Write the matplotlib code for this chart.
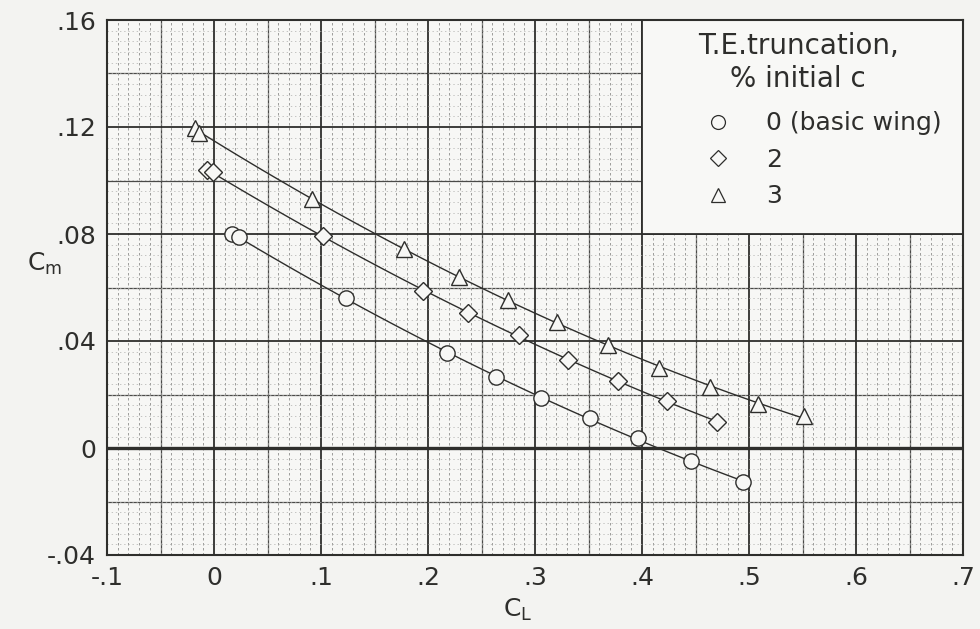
import numpy as np
import matplotlib
matplotlib.use('Agg')
import matplotlib.pyplot as plt
from matplotlib.ticker import MultipleLocator
from matplotlib.patches import Rectangle
from matplotlib.lines import Line2D

# (C_L, Cm)
cl_basic = [0.017, 0.023, 0.123, 0.218, 0.264, 0.306, 0.351, 0.396, 0.446, 0.494]
cm_basic = [0.080, 0.079, 0.056, 0.0355, 0.0265, 0.0187, 0.0112, 0.0037, -0.0049, -0.0127]

cl_trunc2 = [-0.0065, -0.001, 0.102, 0.195, 0.237, 0.285, 0.331, 0.378, 0.423, 0.470]
cm_trunc2 = [0.1039, 0.1030, 0.0793, 0.0587, 0.0505, 0.0422, 0.0329, 0.0250, 0.0176, 0.0097]

cl_trunc3 = [-0.018, -0.014, 0.092, 0.178, 0.229, 0.275, 0.321, 0.368, 0.416, 0.464, 0.508, 0.551]
cm_trunc3 = [0.1196, 0.1178, 0.0931, 0.0744, 0.0639, 0.0553, 0.0471, 0.0385, 0.0299, 0.0228, 0.0164, 0.0120]

series = [
    (cl_basic, cm_basic, 'o', '0 (basic wing)'),
    (cl_trunc2, cm_trunc2, 'D', '2'),
    (cl_trunc3, cm_trunc3, '^', '3'),
]

x_ticks = [-0.1, 0.0, 0.1, 0.2, 0.3, 0.4, 0.5, 0.6, 0.7]
x_labels = ['-.1', '0', '.1', '.2', '.3', '.4', '.5', '.6', '.7']
y_ticks = [-0.04, 0.0, 0.04, 0.08, 0.12, 0.16]
y_labels = ['-.04', '0', '.04', '.08', '.12', '.16']

ink = '#2e2e2c'
paper = '#f3f3f1'

fig = plt.figure(figsize=(9.8, 6.29), dpi=100, facecolor=paper)
ax = fig.add_axes([107 / 980, 1 - 555 / 629, 856 / 980, 535 / 629])
ax.set_facecolor('#f7f7f5')

ax.set_xlim(-0.1, 0.7)
ax.set_ylim(-0.04, 0.16)

# graph paper grid
ax.xaxis.set_minor_locator(MultipleLocator(0.01))
ax.yaxis.set_minor_locator(MultipleLocator(0.004))
ax.xaxis.grid(True, which='minor', color='#8e8e8c', lw=0.6, ls=(0, (3, 3)), zorder=0.3)
ax.yaxis.grid(True, which='minor', color='#b0b0ae', lw=0.5, ls=(0, (2, 4)), zorder=0.3)
ax.grid(which='major', color=ink, lw=1.3, zorder=0.6)
ax.set_axisbelow(True)
for xv in np.arange(-0.05, 0.7, 0.1):
    ax.axvline(xv, color='#4a4a48', lw=0.9, zorder=0.5)
for yv in np.arange(-0.02, 0.16, 0.04):
    ax.axhline(yv, color='#4a4a48', lw=0.9, zorder=0.5)
ax.axhline(0, color=ink, lw=2.4, zorder=0.7)

ax.set_xticks(x_ticks)
ax.set_xticklabels(x_labels)
ax.set_yticks(y_ticks)
ax.set_yticklabels(y_labels)
ax.tick_params(which='both', length=0, labelsize=18, colors=ink, pad=8)

for sp in ax.spines.values():
    sp.set_color(ink)
    sp.set_linewidth(1.5)

# legend panel blanks out the grid
ax.add_patch(Rectangle((0.4, 0.08), 0.3, 0.08, facecolor='#f8f8f6',
                       edgecolor=ink, lw=1.3, zorder=1.5))

handles = []
for cl, cm, mk, lab in series:
    cl = np.array(cl)
    cm = np.array(cm)
    coef = np.polyfit(cl, cm, 2)
    xs = np.linspace(cl.min(), cl.max(), 100)
    ax.plot(xs, np.polyval(coef, xs), color=ink, lw=1.0, zorder=2)
    ms = 9 if mk == 'D' else 11
    ax.plot(cl, cm, ls='none', marker=mk, ms=ms, mfc='#f7f7f5', mec=ink,
            mew=1.0, zorder=3)
    handles.append(Line2D([], [], ls='none', marker=mk, ms=ms - 1,
                          mfc='#f8f8f6', mec=ink, mew=0.9))

ax.text(0.690, 0.951, 'T.E.truncation,', transform=ax.transAxes,
        fontsize=20, color=ink, ha='left', va='center', zorder=4)
ax.text(0.728, 0.890, '% initial c', transform=ax.transAxes,
        fontsize=20, color=ink, ha='left', va='center', zorder=4)

leg = ax.legend(handles, [s[3] for s in series],
                loc='upper left', bbox_to_anchor=(0.685, 0.829),
                frameon=False, fontsize=18, borderpad=0, borderaxespad=0,
                handlelength=2.0, handletextpad=0.9, labelspacing=0.5)
leg.set_zorder(4)
for t in leg.get_texts():
    t.set_color(ink)

ax.text(0.284, -0.0606, r'C$_\mathregular{L}$', fontsize=18, color=ink,
        ha='center', va='center')
ax.text(-0.158, 0.069, r'C$_\mathregular{m}$', fontsize=18, color=ink,
        ha='center', va='center')

fig.savefig('out.png', dpi=100, facecolor=paper)
